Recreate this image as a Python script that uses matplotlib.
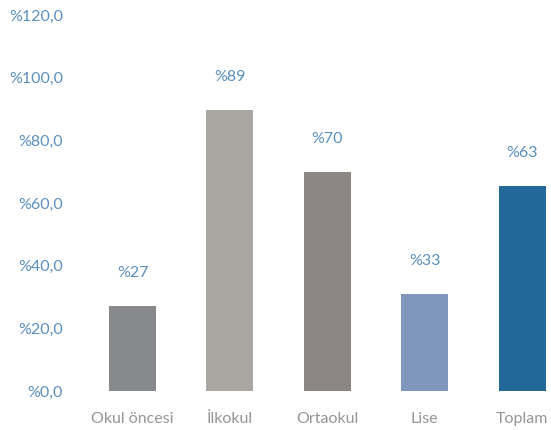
import matplotlib
matplotlib.use("Agg")
import matplotlib.pyplot as plt

categories = ["Okul öncesi", "İlkokul", "Ortaokul", "Lise", "Toplam"]
values = [27.1, 89.6, 69.9, 30.9, 65.4]
value_labels = ["%27", "%89", "%70", "%33", "%63"]
colors = ["#88898d", "#aaa7a3", "#8b8683", "#7f97bd", "#226899"]
yticks = [0, 20, 40, 60, 80, 100, 120]
ytick_labels = ["%0,0", "%20,0", "%40,0", "%60,0", "%80,0", "%100,0", "%120,0"]

plt.rcParams['font.family'] = ['Lato', 'DejaVu Sans']

fig = plt.figure(figsize=(5.51, 4.30), dpi=100)
ax = fig.add_axes([85/551, 39/430, (551-85)/551, 376/430])

x = list(range(len(categories)))
ax.bar(x, values, width=0.483, color=colors)
for xi, v, lab in zip(x, values, value_labels):
    ax.annotate(lab, (xi, v), xytext=(0, 24), textcoords='offset points',
                ha='center', va='center', color='#5a90c0', fontsize=11.5, fontweight='normal')

ax.set_xlim(-0.488, 4.297)
ax.set_ylim(0, 120)
ax.set_xticks(x)
ax.set_xticklabels(categories, color='#959595', fontsize=11.5, fontweight='normal')
ax.set_yticks(yticks)
ax.set_yticklabels(ytick_labels, color='#5a90c0', fontsize=11.5, fontweight='normal')
ax.tick_params(axis='both', length=0)
ax.tick_params(axis='y', pad=16)
ax.tick_params(axis='x', pad=15)
for s in ax.spines.values():
    s.set_visible(False)

fig.savefig("out.png", dpi=100)
